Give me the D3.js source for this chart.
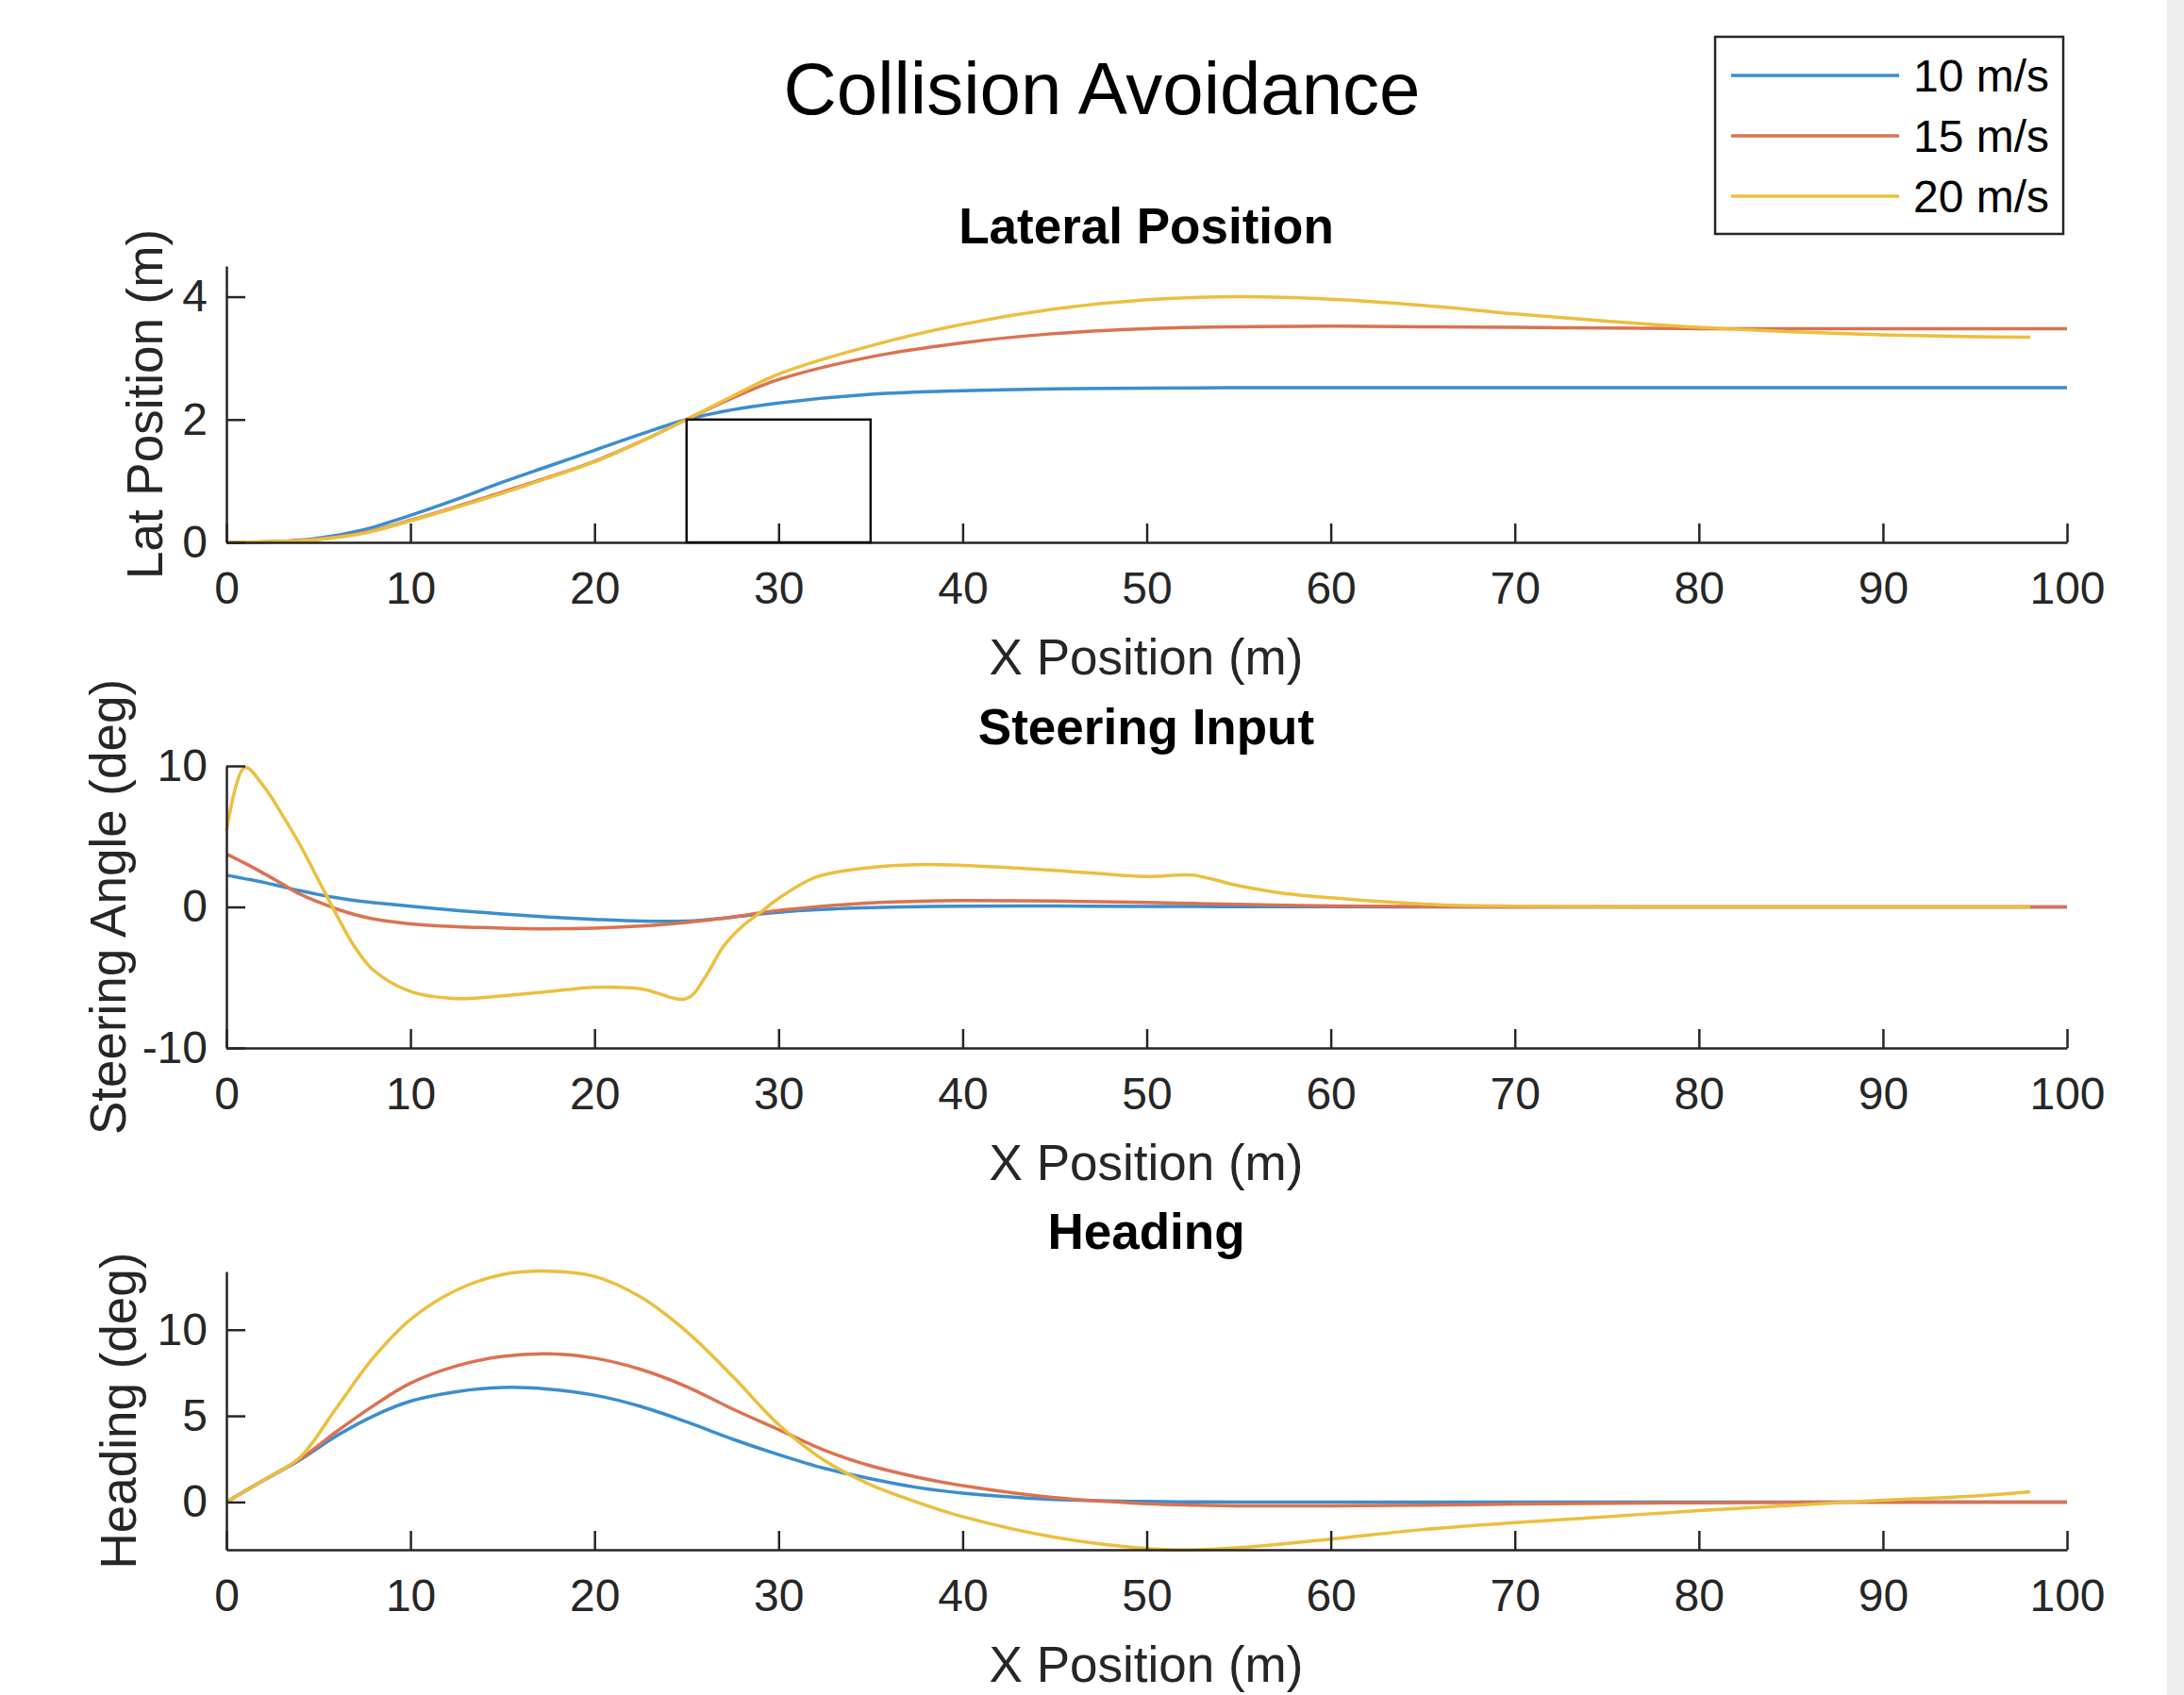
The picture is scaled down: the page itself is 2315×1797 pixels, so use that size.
<!DOCTYPE html>
<html>
<head>
<meta charset="utf-8">
<script src="https://cdn.jsdelivr.net/npm/d3@7"></script>
<style>
  body { margin: 0; background: #fff; }
  svg text { font-family: "Liberation Sans", Arial, Helvetica, sans-serif; }
</style>
</head>
<body>
<script>

// ---- data ----
var speeds = ["10 m/s", "15 m/s", "20 m/s"];
var xTicks = [0, 10, 20, 30, 40, 50, 60, 70, 80, 90, 100];

// lateral position (m)
var latX  = [0, 2.5, 5, 7.5, 10, 12.5, 15, 17.5, 20, 22.5, 25, 27.5, 30, 35, 40, 45, 50, 55, 60, 65, 70, 75, 80, 85, 90, 95, 98, 100];
var lat10 = [0, 0.01, 0.07, 0.21, 0.44, 0.7, 0.98, 1.24, 1.5, 1.76, 2.0, 2.16, 2.27, 2.41, 2.47, 2.5, 2.51, 2.52, 2.52, 2.52, 2.52, 2.52, 2.52, 2.52, 2.52, 2.52, 2.52, 2.52];
var lat15 = [0, 0.01, 0.05, 0.16, 0.36, 0.58, 0.82, 1.06, 1.32, 1.64, 2.0, 2.35, 2.65, 3.02, 3.25, 3.4, 3.48, 3.51, 3.52, 3.51, 3.5, 3.49, 3.48, 3.48, 3.48, 3.48, 3.48, 3.48];
var lat20 = [0, 0.01, 0.05, 0.15, 0.35, 0.57, 0.8, 1.05, 1.31, 1.64, 2.0, 2.38, 2.74, 3.2, 3.55, 3.8, 3.95, 4.0, 3.96, 3.86, 3.72, 3.6, 3.5, 3.43, 3.38, 3.35, 3.34, null];
var latTicks = [0, 2, 4];
var obstacle = [25, 35, 0, 2];   // x0, x1, y0, y1

// steering angle (deg)
var steerX  = [0, 1, 2, 3, 4, 5, 6, 7, 8, 10, 12.5, 15, 17.5, 20, 22.5, 25, 26, 27, 28, 29, 30, 32, 35, 37.5, 40, 45, 50, 52.5, 55, 57.5, 60, 65, 70, 80, 90, 98, 100];
var steer10 = [2.25, 2.0, 1.75, 1.45, 1.15, 0.88, 0.65, 0.45, 0.3, 0.05, -0.25, -0.5, -0.72, -0.88, -1.0, -1.0, -0.92, -0.8, -0.65, -0.5, -0.38, -0.2, -0.05, 0.02, 0.05, 0.06, 0.04, 0.03, 0.02, 0.01, 0.01, 0, 0, 0, 0, 0, 0];
var steer15 = [3.75, 3.1, 2.4, 1.65, 0.9, 0.35, -0.15, -0.55, -0.85, -1.2, -1.4, -1.5, -1.55, -1.5, -1.35, -1.1, -0.95, -0.8, -0.62, -0.42, -0.25, 0.0, 0.28, 0.4, 0.45, 0.42, 0.32, 0.25, 0.18, 0.12, 0.07, 0.02, 0, 0, 0, 0, 0];
var steer20 = [5.4, 9.9, 8.6, 6.6, 4.4, 1.9, -0.6, -2.9, -4.5, -6.0, -6.5, -6.3, -6.0, -5.7, -5.8, -6.5, -5.0, -2.8, -1.4, -0.4, 0.6, 2.1, 2.8, 3.0, 2.95, 2.6, 2.15, 2.25, 1.5, 0.95, 0.65, 0.2, 0.05, 0, 0, 0, null];
var steerTicks = [-10, 0, 10];

// heading (deg)
var headX  = [0, 2, 4, 6, 8, 10, 12.5, 15, 17.5, 20, 22.5, 25, 27.5, 30, 32.5, 35, 37.5, 40, 45, 50, 52.5, 55, 60, 65, 70, 75, 80, 85, 90, 95, 98, 100];
var head10 = [0, 1.25, 2.45, 3.85, 5.0, 5.85, 6.4, 6.65, 6.55, 6.2, 5.55, 4.65, 3.65, 2.75, 1.95, 1.35, 0.85, 0.52, 0.15, 0.03, 0.01, 0, 0, 0, 0, 0, 0, 0, 0, 0, 0, 0];
var head15 = [0, 1.25, 2.5, 4.1, 5.6, 6.9, 7.9, 8.45, 8.6, 8.35, 7.7, 6.7, 5.4, 4.2, 3.0, 2.1, 1.45, 0.95, 0.25, -0.1, -0.18, -0.22, -0.22, -0.18, -0.12, -0.08, -0.04, -0.02, 0, 0, 0, 0];
var head20 = [0, 1.25, 2.6, 5.5, 8.4, 10.6, 12.3, 13.2, 13.4, 13.1, 11.9, 9.9, 7.3, 4.5, 2.4, 1.0, 0.0, -0.85, -2.05, -2.7, -2.77, -2.65, -2.15, -1.6, -1.2, -0.85, -0.5, -0.2, 0.1, 0.35, 0.6, null];
var headTicks = [0, 5, 10];

// ---- drawing ----
var W = 2315, H = 1797;
var colors = ["#3a8ecf", "#db7250", "#ebbf3e"];
var ink = "#262626";

var svg = d3.select("body").append("svg")
	.attr("width", W)
	.attr("height", H);

svg.append("rect").attr("width", W).attr("height", H).attr("fill", "#fff");
svg.append("rect").attr("x", 2297).attr("y", 0).attr("width", 18).attr("height", H).attr("fill", "#eeeeee");

var x = d3.scaleLinear().domain([0, 100]).range([240, 2191]);
var fmt = function(d){ return String(d); };    // plain hyphen minus, no decimals

function panel(top, bottom, yDomain, yTicks, xs, series, title, titleY, yLabel, yLabelX) {
	var y = d3.scaleLinear().domain(yDomain).range([bottom, top]);
	var g = svg.append("g");

	var line = d3.line()
		.defined(function(d){ return d[1] != null; })
		.x(function(d){ return x(d[0]); })
		.y(function(d){ return y(d[1]); })
		.curve(d3.curveCatmullRom.alpha(0.5));

	series.forEach(function(vals, i) {
		g.append("path")
			.attr("d", line(xs.map(function(v, j){ return [v, vals[j]]; })))
			.attr("fill", "none")
			.attr("stroke", colors[i])
			.attr("stroke-width", 3.5)
			.attr("stroke-linejoin", "round");
	});

	var xa = g.append("g")
		.attr("transform", "translate(0," + bottom + ")")
		.call(d3.axisBottom(x).tickValues(xTicks).tickFormat(fmt).tickSizeInner(-20).tickSizeOuter(0).tickPadding(31));
	var ya = g.append("g")
		.attr("transform", "translate(240,0)")
		.call(d3.axisLeft(y).tickValues(yTicks).tickFormat(fmt).tickSizeInner(-20).tickSizeOuter(0).tickPadding(20));

	[xa, ya].forEach(function(a) {
		a.attr("font-size", 48).attr("font-family", null);
		a.select(".domain").attr("stroke", ink).attr("stroke-width", 2.5);
		a.selectAll(".tick line").attr("stroke", ink).attr("stroke-width", 2.5);
		a.selectAll(".tick text").attr("fill", ink);
	});

	g.append("text")
		.attr("x", 1215).attr("y", titleY)
		.attr("text-anchor", "middle")
		.attr("font-size", 53).attr("font-weight", "bold")
		.attr("fill", "#000")
		.text(title);

	g.append("text")
		.attr("x", 1215).attr("y", bottom + 140)
		.attr("text-anchor", "middle")
		.attr("font-size", 53)
		.attr("fill", ink)
		.text("X Position (m)");

	g.append("text")
		.attr("transform", "translate(" + yLabelX + "," + ((top + bottom) / 2) + ") rotate(-90)")
		.attr("text-anchor", "middle")
		.attr("font-size", 53)
		.attr("fill", ink)
		.text(yLabel);

	return y;
}

var yLat = panel(282, 575, [0, 4.5], latTicks, latX, [lat10, lat15, lat20], "Lateral Position", 258, "Lat Position (m)", 172);

svg.append("rect")
	.attr("x", x(obstacle[0]))
	.attr("y", yLat(obstacle[3]))
	.attr("width", x(obstacle[1]) - x(obstacle[0]))
	.attr("height", yLat(obstacle[2]) - yLat(obstacle[3]))
	.attr("fill", "none")
	.attr("stroke", "#111")
	.attr("stroke-width", 2.5);

panel(812, 1111, [-10, 10], steerTicks, steerX, [steer10, steer15, steer20], "Steering Input", 789, "Steering Angle (deg)", 133);
panel(1348, 1643, [-2.77, 13.38], headTicks, headX, [head10, head15, head20], "Heading", 1324, "Heading (deg)", 144);

// main title
svg.append("text")
	.attr("x", 1168).attr("y", 121)
	.attr("text-anchor", "middle")
	.attr("font-size", 78)
	.attr("fill", "#000")
	.text("Collision Avoidance");

// legend
var lg = svg.append("g");
lg.append("rect")
	.attr("x", 1818).attr("y", 39)
	.attr("width", 369).attr("height", 209)
	.attr("fill", "#fff")
	.attr("stroke", ink)
	.attr("stroke-width", 2.5);

speeds.forEach(function(s, i) {
	var ly = 80 + i * 64;
	lg.append("line")
		.attr("x1", 1835).attr("x2", 2013)
		.attr("y1", ly).attr("y2", ly)
		.attr("stroke", colors[i])
		.attr("stroke-width", 3.5);
	lg.append("text")
		.attr("x", 2028).attr("y", ly + 17)
		.attr("font-size", 48)
		.attr("fill", "#000")
		.text(s);
});

</script>
</body>
</html>
